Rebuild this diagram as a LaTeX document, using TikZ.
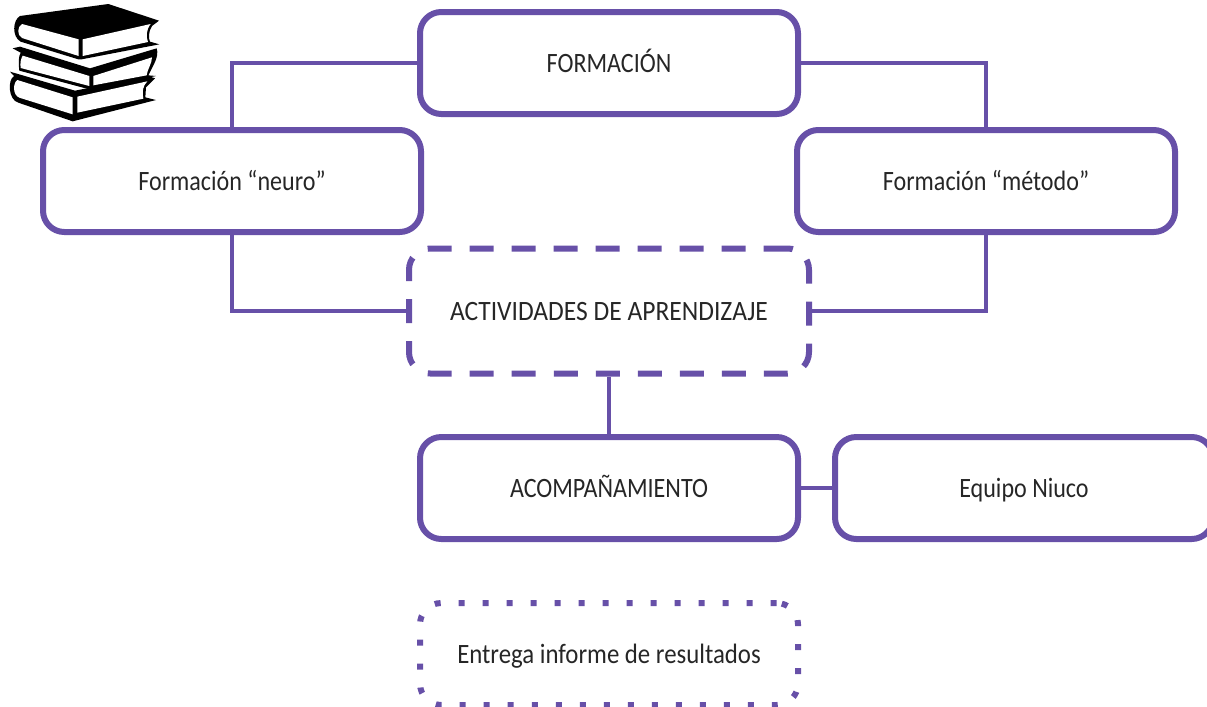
\documentclass[tikz,border=0pt]{standalone}
\usepackage{graphicx}
\usepackage{fontspec}
\setmainfont[FakeStretch=0.86]{Carlito}
\definecolor{nv}{HTML}{6750A8}
\begin{document}
\begin{tikzpicture}[x=0.75pt,y=-0.75pt,
  bx/.style={draw=nv,line width=4.5pt,rounded corners=16pt,minimum width=283.5pt,minimum height=76.5pt,inner sep=0pt,text height=17pt,text depth=3.5pt,font=\fontsize{21}{24}\selectfont,text=black!85},
  link/.style={draw=nv,line width=3.1pt},
  dashbx/.style={dash pattern=on 18pt off 13.5pt},
  dotbx/.style={line cap=butt,dash pattern=on 4.5pt off 13.5pt},
  bk/.style={fill=black,draw=none},
  pg/.style={fill=white,draw=none}]
\useasboundingbox (0,0) rectangle (1207,707);
\node[bx] (form) at (609,63) {FORMACIÓN};
\node[bx] (neuro) at (232,181) {Formación “neuro”};
\node[bx] (metodo) at (986,181) {Formación “método”};
\node[bx,dashbx,minimum width=300pt,minimum height=93.75pt] (act) at (609,311) {\scalebox{1.06}[1]{ACTIVIDADES DE APRENDIZAJE}};
\node[bx] (acomp) at (609,488) {ACOMPAÑAMIENTO};
\node[bx] (equipo) at (1024,488) {Equipo Niuco};
\node[bx,dotbx] (entrega) at (609,654) {\scalebox{1.03}[1]{Entrega informe de resultados}};
\draw[link] (form.west) -| (neuro.north);
\draw[link] (form.east) -| (metodo.north);
\draw[link] (neuro.south) |- (act.west);
\draw[link] (metodo.south) |- (act.east);
\draw[link] (act.south) -- (acomp.north);
\draw[link] (acomp.east) -- (equipo.west);
\begin{scope}[x=0.25pt,y=-0.25pt]
 % bottom book
 \fill[bk] (30,215) -- (225,272) -- (445,228) -- (465,235) -- (438,262) -- (436,292) -- (468,300) -- (218,364) -- (55,308) .. controls (25,300) and (22,240) .. (42,228) -- cycle;
 \fill[pg] (52,240) -- (218,292) -- (218,343) -- (58,293) .. controls (38,285) and (38,250) .. (52,240) -- cycle;
 \fill[pg] (232,290) -- (442,244) .. controls (428,258) and (426,275) .. (430,296) -- (232,338) -- cycle;
 % middle book
 \fill[bk] (38,145) -- (60,140) -- (270,205) -- (470,145) .. controls (478,170) and (460,195) .. (445,226) -- (468,228) -- (278,268) -- (268,268) -- (58,212) .. controls (55,190) and (55,170) .. (62,158) -- cycle;
 \fill[pg] (68,167) -- (268,228) -- (268,258) -- (62,204) .. controls (60,190) and (62,178) .. (68,167) -- cycle;
 \fill[pg] (280,228) -- (456,172) .. controls (456,190) and (442,208) .. (440,226) -- (280,256) -- cycle;
 % top book
 \fill[bk] (60,48) -- (325,12) -- (477,62) -- (456,78) .. controls (445,95) and (445,115) .. (450,125) -- (478,133) -- (245,178) -- (235,178) -- (62,125) .. controls (35,110) and (38,60) .. (60,48) -- cycle;
 \fill[pg] (66,72) -- (236,118) -- (236,168) -- (66,114) .. controls (50,105) and (52,80) .. (66,72) -- cycle;
 \fill[pg] (248,118) -- (452,72) .. controls (438,90) and (438,110) .. (444,126) -- (248,168) -- cycle;
\end{scope}
\end{tikzpicture}
\end{document}
